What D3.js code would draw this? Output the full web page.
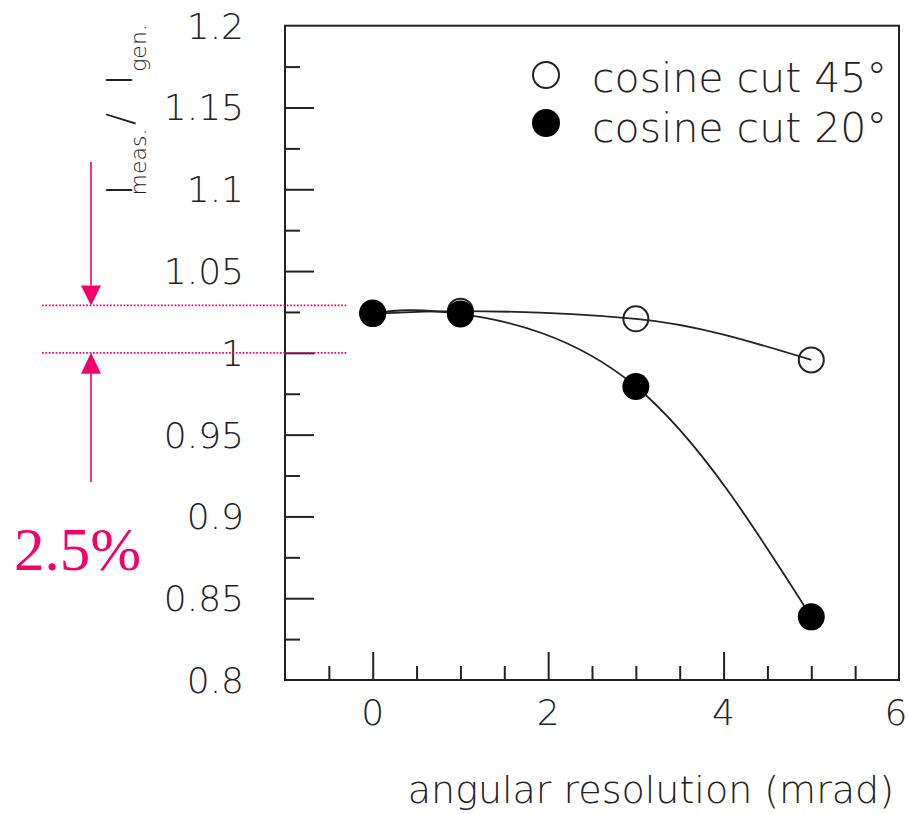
<!DOCTYPE html>
<html>
<head>
<meta charset="utf-8">
<script src="https://cdn.jsdelivr.net/npm/d3@7"></script>
<style>
  html, body { margin: 0; padding: 0; background: #fff; }
  svg { display: block; }
  .lbl { font-family: "DejaVu Sans", "Liberation Sans", sans-serif; font-weight: 200; fill: #222; }
</style>
</head>
<body>
<svg id="chart" width="908" height="814"></svg>
<script>
// ---- data ----
const xValues = [0, 1, 3, 5];
const cut45 = [1.024, 1.0255, 1.0208, 0.9957];
const cut20 = [1.0243, 1.0238, 0.9794, 0.8386];
const seriesNames = ["cosine cut 45°", "cosine cut 20°"];
const yTickValues = [0.8, 0.85, 0.9, 0.95, 1.0, 1.05, 1.1, 1.15, 1.2];
const yTickLabels = ["0.8", "0.85", "0.9", "0.95", "1", "1.05", "1.1", "1.15", "1.2"];
const xTickValues = [0, 2, 4, 6];
const xTickLabels = ["0", "2", "4", "6"];
const xTitle = "angular resolution (mrad)";
const bandValues = [1.029, 1.0];   // annotation dotted lines
const bandLabel = "2.5%";

// ---- layout ----
const svg = d3.select("#chart");
const L = 285, R = 899, T = 25.7, B = 680;
const x = d3.scaleLinear().domain([-1, 6]).range([L, R]);
const y = d3.scaleLinear().domain([0.8, 1.2]).range([B, T]);
const ink = "#222";
const pink = "#f5006a";

// frame
svg.append("rect").attr("x", L).attr("y", T).attr("width", R - L).attr("height", B - T)
  .attr("fill", "none").attr("stroke", ink).attr("stroke-width", 2);

// x axis ticks (inside)
const xMajor = d3.axisBottom(x).tickValues(xTickValues.filter(v => v < 6)).tickSize(-28).tickFormat("");
const xMinor = d3.axisBottom(x).tickValues(d3.range(-0.5, 6, 0.5).filter(v => v % 2 !== 0)).tickSize(-14).tickFormat("");
[xMajor, xMinor].forEach(ax => {
  const g = svg.append("g").attr("transform", `translate(0,${B})`).call(ax);
  g.select(".domain").remove();
  g.selectAll("line").attr("stroke", ink).attr("stroke-width", 2);
});
// y axis ticks (inside)
const yMajor = d3.axisLeft(y).tickValues(yTickValues.filter(v => v > 0.8 && v < 1.2)).tickSize(-29).tickFormat("");
const yMinorVals = d3.range(0, 8).map(i => 0.825 + i * 0.05);
const yMinor = d3.axisLeft(y).tickValues(yMinorVals).tickSize(-15).tickFormat("");
[yMajor, yMinor].forEach(ax => {
  const g = svg.append("g").attr("transform", `translate(${L},0)`).call(ax);
  g.select(".domain").remove();
  g.selectAll("line").attr("stroke", ink).attr("stroke-width", 2);
});

// tick labels
svg.append("g").selectAll("text").data(yTickValues).join("text")
  .attr("class", "lbl").attr("x", 244).attr("y", d => y(d) + 13)
  .attr("text-anchor", "end").attr("font-size", 36)
  .text((d, i) => yTickLabels[i]);
svg.append("g").selectAll("text").data(xTickValues).join("text")
  .attr("class", "lbl").attr("x", d => Math.min(x(d), 896)).attr("y", B + 45)
  .attr("text-anchor", "middle").attr("font-size", 36)
  .text((d, i) => xTickLabels[i]);

// x title
svg.append("text").attr("class", "lbl").attr("x", 894).attr("y", 803)
  .attr("text-anchor", "end").attr("font-size", 38).text(xTitle);

// y title: I_meas. / I_gen.
const yt = [
  {t: "I", c: 190, b: 132, s: 36},
  {t: "meas.", c: 162, b: 146, s: 22},
  {t: "/", c: 119, b: 132, s: 36},
  {t: "I", c: 80, b: 132, s: 36},
  {t: "gen.", c: 48, b: 146, s: 22}
];
svg.append("g").selectAll("text").data(yt).join("text")
  .attr("class", "lbl").attr("text-anchor", "middle")
  .attr("font-size", d => d.s)
  .attr("transform", d => `translate(${d.b},${d.c}) rotate(-90)`)
  .text(d => d.t);

// curves
const lineOpen = d3.line().x(d => x(d[0])).y(d => y(d[1])).curve(d3.curveMonotoneX);
const lineFilled = d3.line().x(d => x(d[0])).y(d => y(d[1])).curve(d3.curveNatural);
[[cut45, lineOpen], [cut20, lineFilled]].forEach(([vals, ln]) => {
  svg.append("path").datum(xValues.map((v, i) => [v, vals[i]]))
    .attr("d", ln).attr("fill", "none").attr("stroke", ink).attr("stroke-width", 1.8);
});

// markers
svg.append("g").selectAll("circle").data(xValues.map((v, i) => [v, cut45[i]])).join("circle")
  .attr("cx", d => x(d[0])).attr("cy", d => y(d[1])).attr("r", 12.5)
  .attr("fill", "none").attr("stroke", ink).attr("stroke-width", 2);
svg.append("g").selectAll("circle").data(xValues.map((v, i) => [v, cut20[i]])).join("circle")
  .attr("cx", d => x(d[0])).attr("cy", d => y(d[1])).attr("r", 13.5)
  .attr("fill", "#000");

// legend
const leg = svg.append("g");
seriesNames.forEach((name, i) => {
  const cy = 75 + i * 48;
  leg.append("circle").attr("cx", 546).attr("cy", cy).attr("r", i === 0 ? 13 : 14)
    .attr("fill", i === 0 ? "none" : "#000").attr("stroke", ink).attr("stroke-width", i === 0 ? 2 : 0);
  leg.append("text").attr("class", "lbl").attr("x", 592).attr("y", 92 + i * 50)
    .attr("font-size", 41).text(name);
});

// pink annotation
const ann = svg.append("g");
bandValues.forEach(v => {
  ann.append("line").attr("x1", 42).attr("x2", 348).attr("y1", y(v)).attr("y2", y(v))
    .attr("stroke", pink).attr("stroke-width", 1.6).attr("stroke-dasharray", "1.7,1.7");
});
const ax = 91;
const yTop = y(bandValues[0]), yBot = y(bandValues[1]);
ann.append("line").attr("x1", ax).attr("x2", ax).attr("y1", 162).attr("y2", yTop - 20)
  .attr("stroke", pink).attr("stroke-width", 1.6);
ann.append("path").attr("d", `M${ax - 10},${yTop - 20}L${ax + 10},${yTop - 20}L${ax},${yTop}Z`).attr("fill", pink);
ann.append("line").attr("x1", ax).attr("x2", ax).attr("y1", yBot + 20).attr("y2", 482)
  .attr("stroke", pink).attr("stroke-width", 1.6);
ann.append("path").attr("d", `M${ax - 10},${yBot + 21}L${ax + 10},${yBot + 21}L${ax},${yBot}Z`).attr("fill", pink);
ann.append("text").attr("x", 14).attr("y", 570).attr("font-family", "'Liberation Serif', 'DejaVu Serif', serif")
  .attr("font-size", 61).attr("fill", pink).text(bandLabel);
</script>
</body>
</html>
